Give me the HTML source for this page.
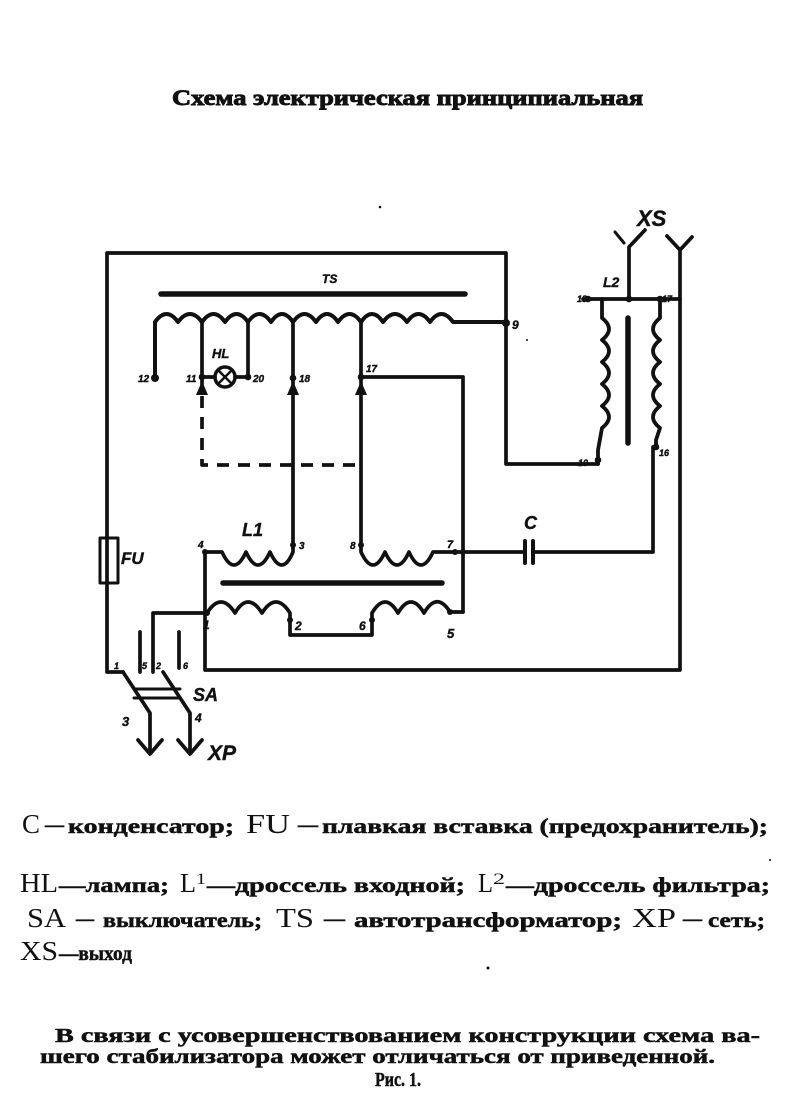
<!DOCTYPE html>
<html>
<head>
<meta charset="utf-8">
<style>
html,body{margin:0;padding:0;background:#fff;}
svg{display:block;}
.t{font-family:"Liberation Serif","DejaVu Serif",serif;fill:#111;}
.b{font-weight:bold;stroke:#111;stroke-width:0.5;}
.lab{font-family:"Liberation Sans","DejaVu Sans",sans-serif;font-style:italic;font-weight:bold;fill:#111;stroke:#111;stroke-width:0.4;}
</style>
</head>
<body>
<svg width="800" height="1119" viewBox="0 0 800 1119" xmlns="http://www.w3.org/2000/svg">
<rect width="800" height="1119" fill="#fff"/>

<!-- Title -->
<text class="t b" x="172" y="105" font-size="22" textLength="471" lengthAdjust="spacingAndGlyphs" style="stroke-width:0.9">Схема электрическая принципиальная</text>

<g fill="none" stroke="#111" stroke-width="3.7" stroke-linecap="round" stroke-linejoin="round">
  <!-- outer frame left/top -->
  <path d="M107,538 V253 H506 V464 H598"/>
  <path d="M107,538 V672 H123"/>
  <!-- fuse -->
  <rect x="100" y="538" width="18" height="45" stroke-width="3"/>

  <!-- TS core -->
  <line x1="161" y1="294" x2="465" y2="294" stroke-width="5.5"/>
  <!-- TS winding -->
  <path d="M155,378 V322 Q166.5,306 178,322 Q190,306 202,322 Q213.5,306 225,322 Q236.5,306 248,322 Q259.5,306 271,322 Q282,306 293,322 Q304.5,306 316,322 Q327,306 338,322 Q349.5,306 361,322 Q372,306 383,322 Q395,306 407,322 Q418.5,306 430,322 Q441.5,306 453,322 H506" stroke-width="4"/>
  <!-- taps -->
  <line x1="202" y1="322" x2="202" y2="392"/>
  <line x1="248" y1="322" x2="248" y2="377"/>
  <line x1="293" y1="322" x2="293" y2="545"/>
  <line x1="361" y1="322" x2="361" y2="545"/>
  <path d="M361,377 H463 V612"/>
  <!-- lamp -->
  <line x1="202" y1="377" x2="215" y2="377"/>
  <line x1="235" y1="377" x2="248" y2="377"/>
  <circle cx="225" cy="377" r="10" stroke-width="3.5"/>
  <line x1="219" y1="371" x2="231" y2="383" stroke-width="2.5"/>
  <line x1="231" y1="371" x2="219" y2="383" stroke-width="2.5"/>
  <!-- dashed mechanical link -->
  <path d="M202,396 V465 H361" stroke-dasharray="12 9" stroke-linecap="butt"/>

  <!-- L1 upper windings -->
  <path d="M205,552 H222 Q234,578 246,552 Q258,578 270,552 Q282,578 293,552 V545"/>
  <path d="M361,545 V552 Q373,578 385,552 Q397,578 409,552 Q421,578 433,552 H524"/>
  <!-- L1 core -->
  <line x1="223" y1="583" x2="442" y2="583" stroke-width="5.5"/>
  <!-- L1 lower windings -->
  <path d="M207,613 Q221,591 235,613 Q248,591 262,613 Q276,591 290,613 V635 H372 V613 Q385,591 398,613 Q411,591 424,613 Q437,591 450,612 H463"/>
  <!-- L1 left vertical + bottom line to XS -->
  <path d="M205,552 V670 H680 V250"/>
  <!-- 1 to SA -->
  <path d="M207,613 H153 V672"/>

  <!-- capacitor -->
  <line x1="525" y1="541" x2="525" y2="563" stroke-width="4"/>
  <line x1="533" y1="541" x2="533" y2="563" stroke-width="4"/>
  <path d="M533,552 H653 V447"/>

  <!-- SA -->
  <line x1="140" y1="632" x2="140" y2="672"/>
  <line x1="179" y1="632" x2="179" y2="668"/>
  <path d="M123,672 L150,713 V753"/>
  <path d="M163,672 L190,713 V753"/>
  <path d="M138,740 L150,754 L162,740"/>
  <path d="M178,740 L190,754 L202,740"/>
  <line x1="134" y1="689" x2="180" y2="689" stroke-width="3"/>
  <line x1="134" y1="698" x2="180" y2="698" stroke-width="3"/>

  <!-- XS forks -->
  <line x1="615" y1="232" x2="624" y2="243" stroke-width="3"/>
  <path d="M645,230 L629,247 V299" />
  <path d="M667,236 L680,250 L692,237"/>
  <!-- L2 top -->
  <line x1="583" y1="299" x2="680" y2="299"/>
  <!-- L2 left coil -->
  <path d="M602,299 V318 Q616,329 602,340 Q616,351 602,362 Q616,373 602,384 Q616,395 602,406 Q616,417 602,428 L598,450 V464" stroke-width="3.8"/>
  <!-- L2 right coil -->
  <path d="M660,299 V318 Q646,329 660,340 Q646,351 660,362 Q646,373 660,384 Q646,395 660,406 Q646,417 660,428 L656,440 V447" stroke-width="3.8"/>
  <!-- L2 core -->
  <line x1="628" y1="318" x2="628" y2="443" stroke-width="5.5"/>
</g>

<!-- arrows (sliding contacts) -->
<g fill="#111">
  <polygon points="196,395 202,381 208,395"/>
  <polygon points="287,395 293,381 299,395"/>
  <polygon points="355,395 361,381 367,395"/>
  <!-- dots -->
  <circle cx="155" cy="378" r="4"/>
  <circle cx="202" cy="377" r="3.3"/>
  <circle cx="248" cy="377" r="3.3"/>
  <circle cx="293" cy="378" r="3.3"/>
  <circle cx="361" cy="377" r="3.3"/>
  <circle cx="506" cy="323" r="4"/>
  <circle cx="205" cy="552" r="3"/>
  <circle cx="293" cy="545" r="3"/>
  <circle cx="361" cy="545" r="3"/>
  <circle cx="455" cy="552" r="3"/>
  <circle cx="463" cy="552" r="3"/>
  <circle cx="207" cy="613" r="3"/>
  <circle cx="290" cy="620" r="3"/>
  <circle cx="372" cy="620" r="3"/>
  <circle cx="450" cy="612" r="3"/>
  <circle cx="629" cy="299" r="3.3"/>
  <circle cx="588" cy="299" r="3.3"/>
  <circle cx="660" cy="299" r="3.3"/>
  <circle cx="598" cy="460" r="3.3"/>
  <circle cx="656" cy="447" r="3.3"/>
  <!-- stray specks -->
  <circle cx="380" cy="207" r="1.3"/>
  <circle cx="527" cy="340" r="1"/>
  <circle cx="488" cy="968" r="1.5"/>
  <circle cx="770" cy="860" r="1"/>
</g>

<!-- diagram labels -->
<text class="lab" x="322" y="283" font-size="12">TS</text>
<text class="lab" x="212" y="358" font-size="13">HL</text>
<text class="lab" x="138" y="382" font-size="10">12</text>
<text class="lab" x="186" y="382" font-size="10">11</text>
<text class="lab" x="253" y="382" font-size="10">20</text>
<text class="lab" x="299" y="382" font-size="10">18</text>
<text class="lab" x="366" y="372" font-size="10">17</text>
<text class="lab" x="512" y="329" font-size="12">9</text>
<text class="lab" x="242" y="536" font-size="18">L1</text>
<text class="lab" x="198" y="548" font-size="10">4</text>
<text class="lab" x="299" y="549" font-size="10">3</text>
<text class="lab" x="350" y="549" font-size="10">8</text>
<text class="lab" x="447" y="548" font-size="11">7</text>
<text class="lab" x="524" y="529" font-size="18">C</text>
<text class="lab" x="203" y="629" font-size="12">1</text>
<text class="lab" x="295" y="630" font-size="12">2</text>
<text class="lab" x="359" y="630" font-size="12">6</text>
<text class="lab" x="447" y="638" font-size="13">5</text>
<text class="lab" x="121" y="564" font-size="17">FU</text>
<text class="lab" x="114" y="669" font-size="9">1</text>
<text class="lab" x="142" y="669" font-size="9">5</text>
<text class="lab" x="156" y="669" font-size="9">2</text>
<text class="lab" x="183" y="669" font-size="9">6</text>
<text class="lab" x="193" y="701" font-size="18">SA</text>
<text class="lab" x="122" y="726" font-size="13">3</text>
<text class="lab" x="195" y="722" font-size="12">4</text>
<text class="lab" x="208" y="760" font-size="21">XP</text>
<text class="lab" x="637" y="226" font-size="22" font-style="normal">XS</text>
<text class="lab" x="603" y="287" font-size="14">L2</text>
<text class="lab" x="577" y="302" font-size="9">13</text>
<text class="lab" x="662" y="302" font-size="9">17</text>
<text class="lab" x="578" y="466" font-size="9">10</text>
<text class="lab" x="659" y="456" font-size="9">16</text>

<!-- Legend -->
<g class="t">
  <text x="22" y="833" font-size="27" textLength="18" lengthAdjust="spacingAndGlyphs">C</text>
  <text class="b" x="45" y="831" font-size="20" textLength="19" lengthAdjust="spacingAndGlyphs">—</text>
  <text class="b" x="68" y="833" font-size="21" textLength="166" lengthAdjust="spacingAndGlyphs">конденсатор;</text>
  <text x="246" y="833" font-size="27" textLength="44" lengthAdjust="spacingAndGlyphs">FU</text>
  <text class="b" x="298" y="831" font-size="20" textLength="20" lengthAdjust="spacingAndGlyphs">—</text>
  <text class="b" x="322" y="833" font-size="21" textLength="446" lengthAdjust="spacingAndGlyphs">плавкая вставка (предохранитель);</text>

  <text x="20" y="892" font-size="27" textLength="38" lengthAdjust="spacingAndGlyphs">HL</text>
  <text class="b" x="59" y="892" font-size="21" textLength="110" lengthAdjust="spacingAndGlyphs">—лампа;</text>
  <text x="180" y="892" font-size="27" textLength="16" lengthAdjust="spacingAndGlyphs">L</text>
  <text x="196" y="884" font-size="16" textLength="10" lengthAdjust="spacingAndGlyphs">1</text>
  <text class="b" x="207" y="892" font-size="21" textLength="258" lengthAdjust="spacingAndGlyphs">—дроссель входной;</text>
  <text x="478" y="892" font-size="27" textLength="15" lengthAdjust="spacingAndGlyphs">L</text>
  <text x="493" y="884" font-size="16" textLength="12" lengthAdjust="spacingAndGlyphs">2</text>
  <text class="b" x="506" y="892" font-size="21" textLength="264" lengthAdjust="spacingAndGlyphs">—дроссель фильтра;</text>

  <text x="27" y="927" font-size="27" textLength="39" lengthAdjust="spacingAndGlyphs">SA</text>
  <text class="b" x="76" y="925" font-size="20" textLength="18" lengthAdjust="spacingAndGlyphs">—</text>
  <text class="b" x="103" y="927" font-size="21" textLength="159" lengthAdjust="spacingAndGlyphs">выключатель;</text>
  <text x="276" y="927" font-size="27" textLength="38" lengthAdjust="spacingAndGlyphs">TS</text>
  <text class="b" x="324" y="925" font-size="20" textLength="21" lengthAdjust="spacingAndGlyphs">—</text>
  <text class="b" x="354" y="927" font-size="21" textLength="268" lengthAdjust="spacingAndGlyphs">автотрансформатор;</text>
  <text x="632" y="927" font-size="27" textLength="44" lengthAdjust="spacingAndGlyphs">XP</text>
  <text class="b" x="683" y="925" font-size="20" textLength="19" lengthAdjust="spacingAndGlyphs">—</text>
  <text class="b" x="708" y="927" font-size="21" textLength="57" lengthAdjust="spacingAndGlyphs">сеть;</text>

  <text x="20" y="960" font-size="27" textLength="38" lengthAdjust="spacingAndGlyphs">XS</text>
  <text class="b" x="59" y="960" font-size="21" textLength="73" lengthAdjust="spacingAndGlyphs">—выход</text>

  <!-- Note -->
  <text class="b" x="55" y="1042" font-size="20" textLength="705" lengthAdjust="spacingAndGlyphs">В связи с усовершенствованием конструкции схема ва-</text>
  <text class="b" x="40" y="1063" font-size="20" textLength="675" lengthAdjust="spacingAndGlyphs">шего стабилизатора может отличаться от приведенной.</text>
  <text class="b" x="375" y="1086" font-size="20" textLength="46" lengthAdjust="spacingAndGlyphs">Рис. 1.</text>
</g>
</svg>
</body>
</html>
